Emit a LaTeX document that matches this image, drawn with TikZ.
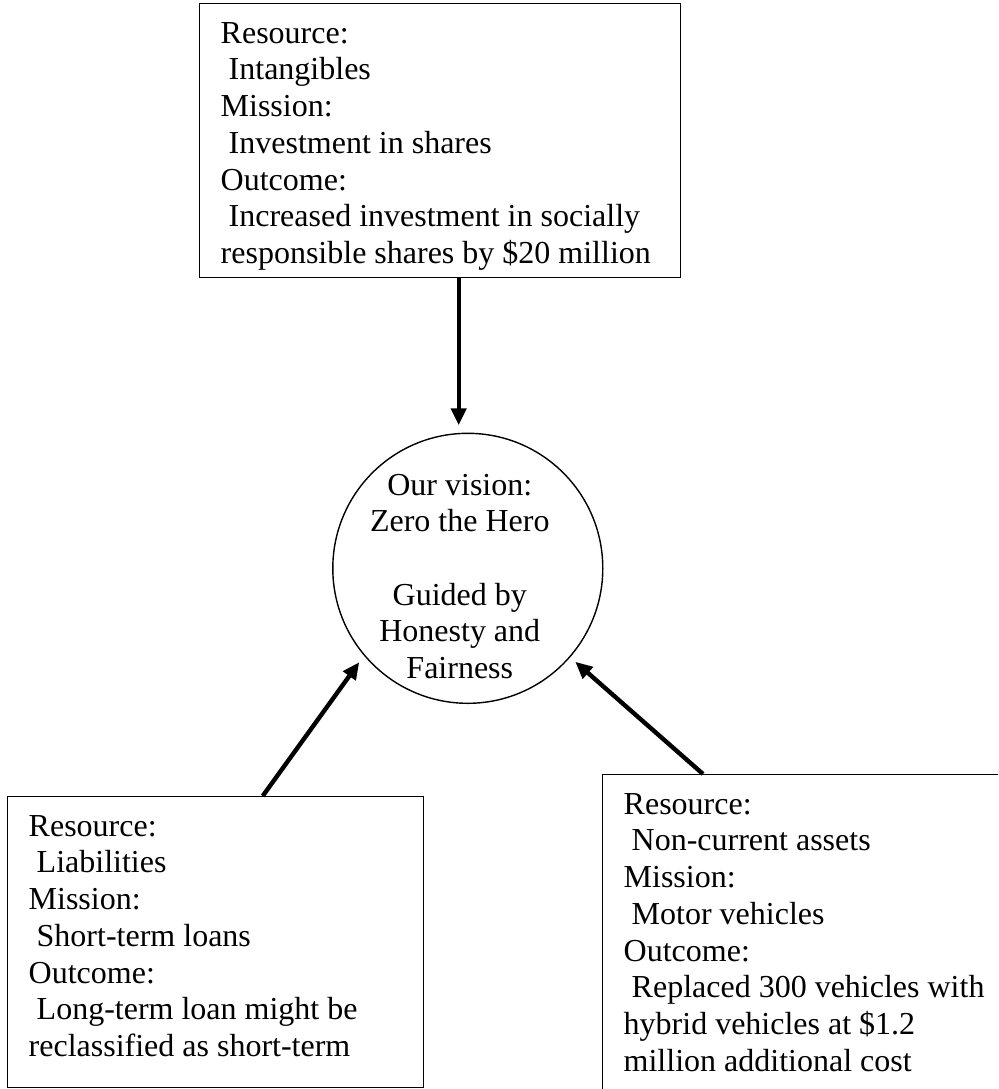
\documentclass[tikz,border=0pt]{standalone}
\usepackage{fontspec}
\setmainfont{Liberation Serif}
\usetikzlibrary{arrows.meta,positioning}
\tikzset{
  card/.style = {rectangle, draw=black, line width=0.7pt, anchor=north west,
                 inner sep=0pt, inner xsep=10.5pt, text height=19.75pt,
                 align=flush left, font=\fontsize{16}{18.35}\selectfont},
  hub/.style  = {circle, draw=black, line width=0.7pt, minimum size=135pt,
                 inner sep=0pt, outer sep=0pt},
  hubtxt/.style = {align=center, inner sep=0pt, font=\fontsize{16}{18.35}\selectfont},
  ed/.style   = {-{Triangle[length=8.5pt,width=7.5pt]}, draw=black, line width=2.2pt},
}
\newcommand{\ind}{\hspace*{0.25em}}

\begin{document}
\begin{tikzpicture}[x=0.5pt,y=-0.5pt]
  \useasboundingbox (0,0) rectangle (998,1089);
  \clip (0,0) rectangle (998,1089);
  \node[card, text width=219.5pt, text depth=117.25pt] (topbox) at (199,3)
    {Resource:\\ \ind Intangibles\\ Mission:\\ \ind Investment in shares\\ Outcome:\\
     \ind Increased investment in socially\\ responsible shares by \$20 million};
  \node[hub] (vision) at (467.8,568.3) {};
  \node[hubtxt] (visiontext) at ([xshift=-4pt,yshift=-4pt]vision.center)
    {Our vision:\\ Zero the Hero\\ \mbox{}\\ Guided by\\ Honesty and\\ Fairness};
  \node[card, text width=187pt, text depth=125.75pt] (blbox) at (7,796)
    {Resource:\\ \ind Liabilities\\ Mission:\\ \ind Short-term loans\\ Outcome:\\
     \ind Long-term loan might be\\ reclassified as short-term};
  \node[card, text width=189pt, text depth=160pt] (brbox) at (602,774)
    {Resource:\\ \ind Non-current assets\\ Mission:\\ \ind Motor vehicles\\ Outcome:\\
     \ind Replaced 300 vehicles with\\ hybrid vehicles at \$1.2\\ million additional cost};
  \coordinate (topfoot) at ([xshift=9.25pt]topbox.south);
  \coordinate (blfoot)  at ([xshift=23.5pt]blbox.north);
  \coordinate (brfoot)  at ([xshift=50.5pt]brbox.north west);
  \draw[ed, shorten >=4pt]   (topfoot) -- (topfoot |- vision.north);
  \draw[ed, shorten >=4.4pt] (blfoot) -- (vision.220);
  \draw[ed, shorten >=3.7pt] (brfoot) -- (vision.319);
\end{tikzpicture}
\end{document}
